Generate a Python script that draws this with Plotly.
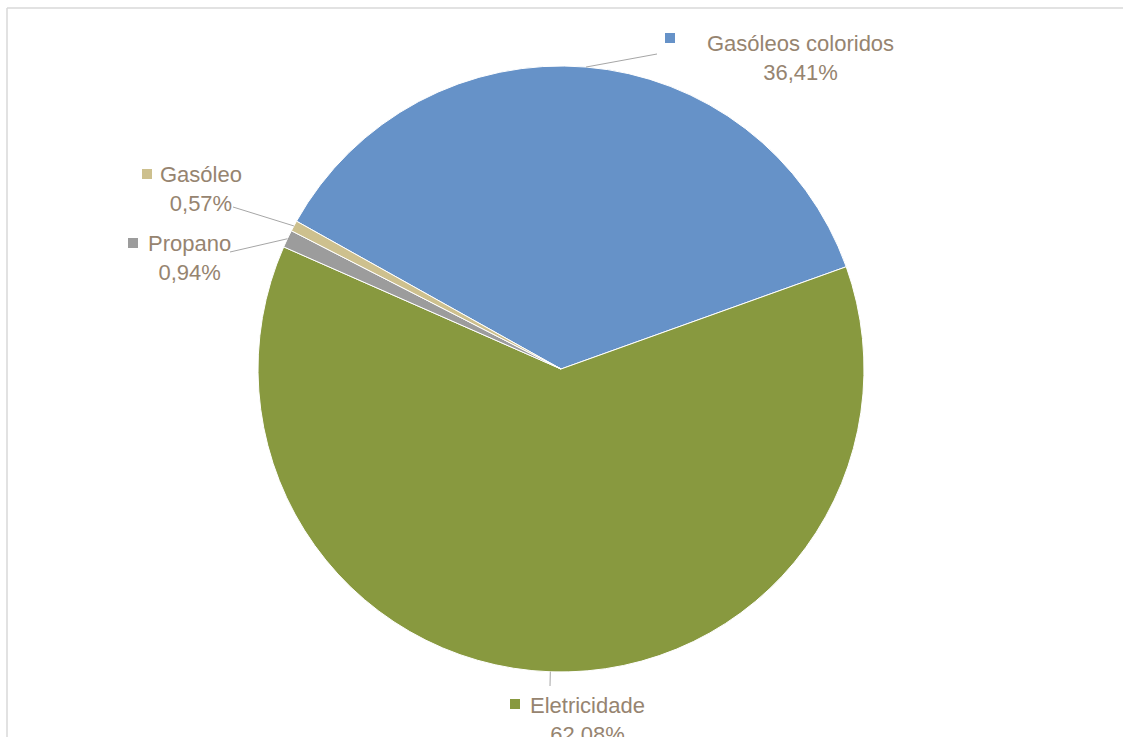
import math
import plotly.graph_objects as go

# ---- data ----
categories = ["Gasóleos coloridos", "Eletricidade", "Propano", "Gasóleo"]
values = [36.41, 62.08, 0.94, 0.57]
value_labels = ["36,41%", "62,08%", "0,94%", "0,57%"]
colors = ["#6692C8", "#88993F", "#9C9C9C", "#CDC08E"]

W, H = 1123, 737
CX, CY, R = 561, 369, 303
ROT = -60.8
TEXT_COLOR = "#968470"
FONT = "Liberation Sans, Arial, sans-serif"


def px(x):
    return x / W


def py(y):
    return 1 - y / H


fig = go.Figure(go.Pie(
    labels=categories,
    values=values,
    sort=False,
    direction="clockwise",
    rotation=ROT,
    marker=dict(colors=colors, line=dict(color="white", width=1)),
    textinfo="none",
    hoverinfo="skip",
    showlegend=False,
    domain=dict(x=[px(CX - R), px(CX + R)], y=[py(CY + R), py(CY - R)]),
))

# label layout: (name-center x, block center y, square x, square y, leader end x, leader end y)
label_layout = {
    "Gasóleos coloridos": (800, 58, 670, 38, 657, 54),
    "Eletricidade": (587, 720, 515, 704, 550, 686),
    "Propano": (189, 258, 133, 243, 230, 252),
    "Gasóleo": (201, 189, 147, 174, 233, 207),
}

shapes = []
annotations = []
total = sum(values)
start = ROT
for cat, val, lab, col in zip(categories, values, value_labels, colors):
    span = val / total * 360
    mid = math.radians(start + span / 2)
    start += span
    ex = CX + R * math.sin(mid)
    ey = CY - R * math.cos(mid)
    tx, ty, sx, sy, lx, ly = label_layout[cat]
    shapes.append(dict(type="line", xref="paper", yref="paper",
                       x0=px(ex), y0=py(ey), x1=px(lx), y1=py(ly),
                       line=dict(color="#A6A6A6", width=1)))
    shapes.append(dict(type="rect", xref="paper", yref="paper",
                       x0=px(sx - 5), x1=px(sx + 5), y0=py(sy + 5), y1=py(sy - 5),
                       fillcolor=col, line=dict(width=0)))
    annotations.append(dict(xref="paper", yref="paper", x=px(tx), y=py(ty),
                            xanchor="center", yanchor="middle", align="center",
                            showarrow=False, text=f"{cat}<br>{lab}",
                            font=dict(family=FONT, size=22, color=TEXT_COLOR)))

# chart frame (top and left edges visible)
shapes.append(dict(type="line", xref="paper", yref="paper", x0=px(7), x1=1, y0=py(8), y1=py(8),
                   line=dict(color="#D9D9D9", width=1.5)))
shapes.append(dict(type="line", xref="paper", yref="paper", x0=px(7), x1=px(7), y0=py(8), y1=0,
                   line=dict(color="#D9D9D9", width=1.5)))

fig.update_layout(
    width=W, height=H,
    margin=dict(l=0, r=0, t=0, b=0),
    paper_bgcolor="white",
    plot_bgcolor="white",
    shapes=shapes,
    annotations=annotations,
)

fig.write_html("out.html", config={"displayModeBar": False},
               post_script="document.body.style.margin='0';document.body.style.overflow='hidden';")
